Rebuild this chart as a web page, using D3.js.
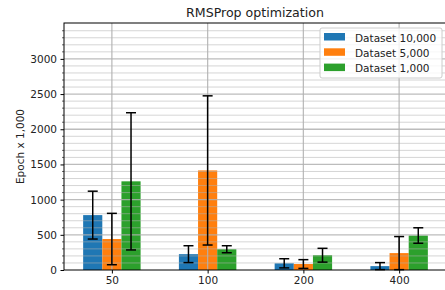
<!DOCTYPE html>
<html>
<head>
<meta charset="utf-8">
<script src="https://cdn.jsdelivr.net/npm/d3@7"></script>
<style>
  body { margin: 0; background: #fff; }
  text { font-family: "DejaVu Sans", sans-serif; }
</style>
</head>
<body>
<script>
// chart data
const categories = ['50', '100', '200', '400'];
const seriesNames = ['Dataset 10,000', 'Dataset 5,000', 'Dataset 1,000'];
const colors = ['#1f77b4', '#ff7f0e', '#2ca02c'];
const values = [
  [780, 225, 95, 55],
  [440, 1415, 85, 240],
  [1260, 295, 210, 490]
];
const errors = [
  [340, 120, 65, 50],
  [365, 1060, 62, 235],
  [975, 50, 98, 110]
];
const yTicks = [0, 500, 1000, 1500, 2000, 2500, 3000];

const width = 445, height = 290;
const margin = {left: 64, top: 23, right: -2, bottom: 20};
const fs = 10.5;

const svg = d3.select('body').append('svg')
    .attr('width', width)
    .attr('height', height);

const x = d3.scaleLinear()
    .domain([-0.5, categories.length - 0.5])
    .range([margin.left, width - margin.right]);
const y = d3.scaleLinear()
    .domain([0, 3510])
    .range([height - margin.bottom, margin.top]);

const barW = 0.2;

// bars
seriesNames.forEach((name, s) => {
  svg.append('g').selectAll('rect')
    .data(values[s])
    .join('rect')
    .attr('x', (d, i) => x(i + (s - 1) * barW - barW / 2))
    .attr('width', x(barW) - x(0))
    .attr('y', d => y(d))
    .attr('height', d => y(0) - y(d))
    .attr('fill', colors[s]);
});

// grid on top of bars
const grid = svg.append('g');
grid.selectAll('.minor')
    .data(d3.range(0, 3500, 100).filter(v => v % 500 !== 0))
    .join('line')
    .attr('x1', margin.left).attr('x2', width)
    .attr('y1', d => y(d)).attr('y2', d => y(d))
    .attr('stroke', '#b0b0b0').attr('stroke-opacity', 0.6).attr('stroke-width', 0.9);
grid.selectAll('.major')
    .data(yTicks.slice(1))
    .join('line')
    .attr('x1', margin.left).attr('x2', width)
    .attr('y1', d => y(d)).attr('y2', d => y(d))
    .attr('stroke', '#b0b0b0').attr('stroke-opacity', 0.85).attr('stroke-width', 1.3);
grid.selectAll('.vert')
    .data(categories)
    .join('line')
    .attr('x1', (d, i) => x(i)).attr('x2', (d, i) => x(i))
    .attr('y1', margin.top).attr('y2', y(0))
    .attr('stroke', '#b0b0b0').attr('stroke-opacity', 0.85).attr('stroke-width', 1.3);

// error bars
seriesNames.forEach((name, s) => {
  const g = svg.append('g').attr('stroke', '#000').attr('stroke-width', 1.5);
  values[s].forEach((v, i) => {
    const cx = x(i + (s - 1) * barW);
    const lo = Math.max(0, v - errors[s][i]), hi = v + errors[s][i];
    g.append('line').attr('x1', cx).attr('x2', cx).attr('y1', y(lo)).attr('y2', y(hi));
    g.append('line').attr('x1', cx - 5).attr('x2', cx + 5).attr('y1', y(lo)).attr('y2', y(lo));
    g.append('line').attr('x1', cx - 5).attr('x2', cx + 5).attr('y1', y(hi)).attr('y2', y(hi));
  });
});

// axes
const yAxis = d3.axisLeft(y).tickValues(yTicks).tickFormat(d3.format('d'))
    .tickSize(3.5).tickPadding(3.5);
const yg = svg.append('g')
    .attr('transform', `translate(${margin.left},0)`)
    .call(yAxis);
yg.select('.domain').remove();
yg.selectAll('text').attr('font-size', fs).attr('fill', '#222').attr('font-family', 'DejaVu Sans');

// minor ticks
svg.append('g').selectAll('line')
    .data(d3.range(0, 3510, 100).filter(v => v % 500 !== 0))
    .join('line')
    .attr('x1', margin.left - 2).attr('x2', margin.left)
    .attr('y1', d => y(d)).attr('y2', d => y(d))
    .attr('stroke', '#000').attr('stroke-width', 0.6);

const xAxis = d3.axisBottom(x)
    .tickValues(d3.range(categories.length))
    .tickFormat(i => categories[i])
    .tickSize(3.5).tickPadding(3.5);
const xg = svg.append('g')
    .attr('transform', `translate(0,${y(0)})`)
    .call(xAxis);
xg.select('.domain').remove();
xg.selectAll('text').attr('font-size', fs).attr('fill', '#222').attr('font-family', 'DejaVu Sans');

// spines
svg.append('rect')
    .attr('x', margin.left).attr('y', margin.top)
    .attr('width', width - margin.right - margin.left)
    .attr('height', y(0) - margin.top)
    .attr('fill', 'none').attr('stroke', '#000').attr('stroke-width', 1);

// title and label
svg.append('text')
    .attr('x', 255).attr('y', 17)
    .attr('text-anchor', 'middle')
    .attr('font-size', 12.6)
    .attr('fill', '#222')
    .text('RMSProp optimization');

svg.append('text')
    .attr('transform', `translate(24,${(margin.top + y(0)) / 2}) rotate(-90)`)
    .attr('text-anchor', 'middle')
    .attr('font-size', fs)
    .attr('fill', '#222')
    .text('Epoch x 1,000');

// legend
const legend = svg.append('g').attr('transform', 'translate(320,28)');
legend.append('rect')
    .attr('width', 122).attr('height', 50).attr('rx', 2)
    .attr('fill', '#fff').attr('fill-opacity', 0.8)
    .attr('stroke', '#cccccc');
seriesNames.forEach((name, s) => {
  legend.append('rect')
    .attr('x', 4).attr('y', 5 + s * 15.3)
    .attr('width', 21).attr('height', 7.5)
    .attr('fill', colors[s]);
  legend.append('text')
    .attr('x', 35).attr('y', 13.5 + s * 15.3)
    .attr('font-size', fs)
    .attr('fill', '#222')
    .text(name);
});
</script>
</body>
</html>
